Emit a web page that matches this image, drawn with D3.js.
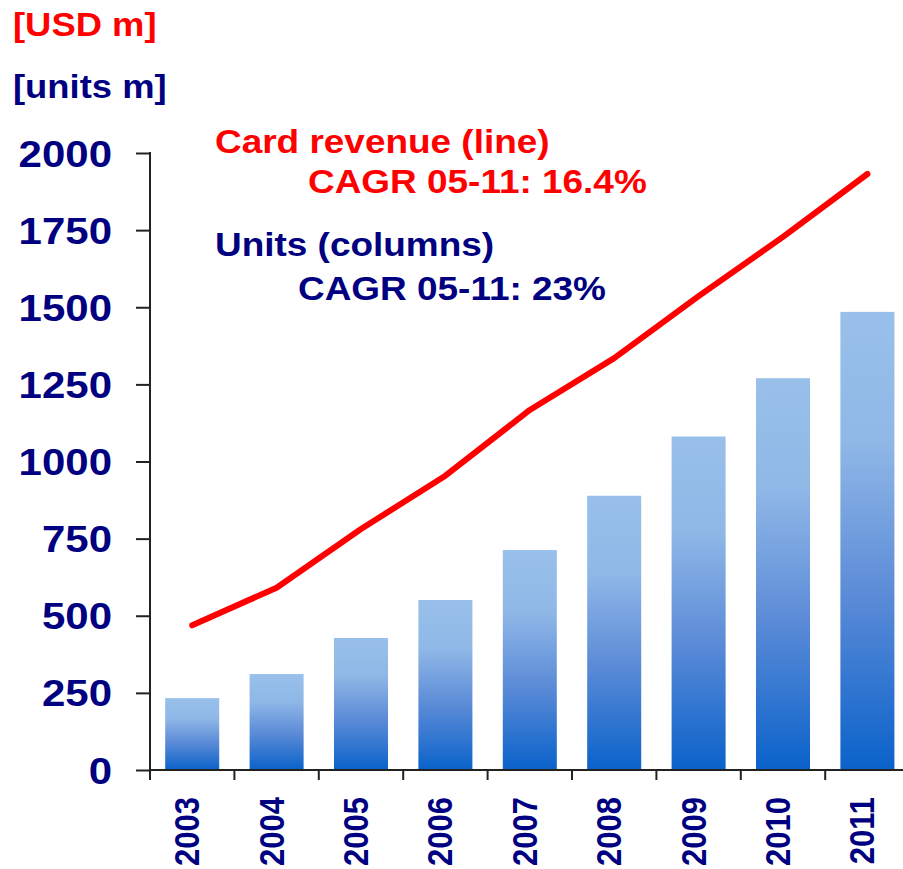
<!DOCTYPE html>
<html>
<head>
<meta charset="utf-8">
<script src="https://cdn.jsdelivr.net/npm/d3@7"></script>
<style>
  html, body { margin: 0; padding: 0; background: #fff; }
  svg { display: block; }
  text { font-family: "Liberation Sans", Arial, sans-serif; font-weight: bold; }
</style>
</head>
<body>
<svg id="chart" width="903" height="869"></svg>
<script>
const years = ["2003","2004","2005","2006","2007","2008","2009","2010","2011"];
const units = [233, 311, 428, 551, 713, 889, 1081, 1270, 1485];
const revenue = [469, 591, 781, 954, 1167, 1335, 1536, 1728, 1932];
const yTicks = [0, 250, 500, 750, 1000, 1250, 1500, 1750, 2000];
const unitLabelRevenue = "[USD m]";
const unitLabelUnits = "[units m]";
const legendRevenue = ["Card revenue (line)", "CAGR 05-11: 16.4%"];
const legendUnits = ["Units (columns)", "CAGR 05-11: 23%"];

const RED = "#ff0000", NAVY = "#000080", AX = "#222";
const SX = 1.12; // horizontal text stretch

const svg = d3.select("#chart");

const x = d3.scaleBand().domain(years).range([150, 909.6]).paddingInner(0.36).paddingOuter(0.18);
const y = d3.scaleLinear().domain([0, 2000]).range([770, 153]);

// gradient
const defs = svg.append("defs");
const grad = defs.append("linearGradient").attr("id", "barGrad")
  .attr("x1", 0).attr("y1", 0).attr("x2", 0).attr("y2", 1);
[[0, "#98c0ea"], [0.28, "#90b8e7"], [0.62, "#5b8bd7"], [1, "#0a62ca"]].forEach(([o, c]) =>
  grad.append("stop").attr("offset", o).attr("stop-color", c));

// bars
svg.append("g").selectAll("rect").data(years).join("rect")
  .attr("x", d => x(d))
  .attr("width", x.bandwidth())
  .attr("y", (d, i) => y(units[i]))
  .attr("height", (d, i) => y(0) - y(units[i]))
  .attr("fill", "url(#barGrad)");

// y axis
const yAxis = svg.append("g").attr("transform", "translate(150,0)")
  .call(d3.axisLeft(y).tickValues(yTicks).tickSize(14).tickSizeOuter(0).tickFormat(""));
yAxis.select(".domain").remove();
yAxis.selectAll("line").attr("stroke", AX).attr("stroke-width", 2);
svg.append("line").attr("x1", 150).attr("x2", 150).attr("y1", y(2000) - 1).attr("y2", 780)
  .attr("stroke", AX).attr("stroke-width", 2);

// y tick labels
svg.append("g").selectAll("text").data(yTicks).join("text")
  .attr("transform", d => `translate(112,${y(d) + 13.5}) scale(${SX},1)`)
  .attr("text-anchor", "end")
  .attr("font-size", 37.5)
  .attr("fill", NAVY)
  .text(d => d);

// x axis
svg.append("line").attr("x1", 150).attr("x2", 903).attr("y1", y(0)).attr("y2", y(0))
  .attr("stroke", AX).attr("stroke-width", 2);
svg.append("g").selectAll("line").data(years.slice(1)).join("line")
  .attr("x1", d => x(d) - x.step() * x.paddingInner() / 2)
  .attr("x2", d => x(d) - x.step() * x.paddingInner() / 2)
  .attr("y1", y(0)).attr("y2", y(0) + 10)
  .attr("stroke", AX).attr("stroke-width", 2);

// x labels
svg.append("g").selectAll("text").data(years).join("text")
  .attr("transform", d => `translate(${x(d) + x.bandwidth() / 2 + 7},797) scale(${SX},1) rotate(-90)`)
  .attr("text-anchor", "end")
  .attr("font-size", 31)
  .attr("fill", NAVY)
  .text(d => d);

// revenue line
const line = d3.line().x((d, i) => x(years[i]) + x.bandwidth() / 2).y(d => y(d));
svg.append("path").datum(revenue)
  .attr("d", line)
  .attr("fill", "none")
  .attr("stroke", RED)
  .attr("stroke-width", 6)
  .attr("stroke-linecap", "round")
  .attr("stroke-linejoin", "round");

// unit labels
function label(txt, x0, yb, size, color) {
  svg.append("text")
    .attr("transform", `translate(${x0},${yb}) scale(${SX},1)`)
    .attr("font-size", size)
    .attr("fill", color)
    .text(txt);
}
label(unitLabelRevenue, 13, 36, 32.5, RED);
label(unitLabelUnits, 13, 98, 32.5, NAVY);
label(legendRevenue[0], 215, 153, 33, RED);
label(legendRevenue[1], 308, 193, 33, RED);
label(legendUnits[0], 215, 256, 33, NAVY);
label(legendUnits[1], 298, 300, 33, NAVY);
</script>
</body>
</html>
